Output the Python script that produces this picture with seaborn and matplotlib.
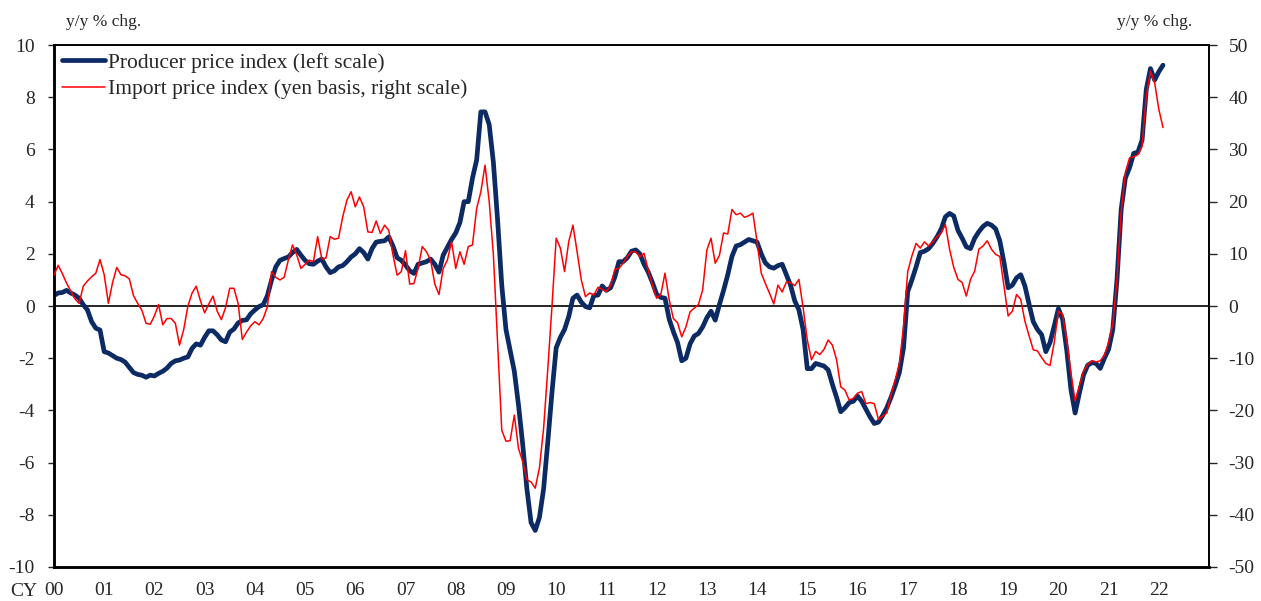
import numpy as np
import pandas as pd
import matplotlib
matplotlib.use("Agg")
import matplotlib.pyplot as plt
from matplotlib.lines import Line2D
import seaborn as sns

# =========================================
# DATA (monthly, Jan 2000 - Feb 2022, y/y % chg.)
# =========================================

# Producer price index, left scale
ppi_2000 = [0.4, 0.5, 0.52, 0.6, 0.5, 0.42, 0.3, 0.05, -0.15, -0.6, -0.85, -0.92]
ppi_2001 = [-1.75, -1.8, -1.9, -2.0, -2.05, -2.15, -2.35, -2.55, -2.62, -2.65, -2.73, -2.65]
ppi_2002 = [-2.68, -2.58, -2.5, -2.38, -2.2, -2.1, -2.07, -2.0, -1.95, -1.62, -1.45, -1.5]
ppi_2003 = [-1.2, -0.95, -0.95, -1.1, -1.3, -1.37, -1.0, -0.88, -0.65, -0.55, -0.53, -0.3]
ppi_2004 = [-0.15, -0.02, 0.05, 0.4, 1.0, 1.5, 1.75, 1.82, 1.88, 2.05, 2.17, 1.95]
ppi_2005 = [1.75, 1.62, 1.6, 1.72, 1.8, 1.5, 1.28, 1.35, 1.5, 1.55, 1.7, 1.88]
ppi_2006 = [2.0, 2.2, 2.05, 1.8, 2.2, 2.45, 2.48, 2.5, 2.65, 2.3, 1.85, 1.75]
ppi_2007 = [1.57, 1.35, 1.25, 1.6, 1.65, 1.7, 1.8, 1.6, 1.3, 1.95, 2.25, 2.55]
ppi_2008 = [2.8, 3.2, 4.0, 4.0, 4.9, 5.6, 7.44, 7.44, 6.95, 5.5, 3.3, 0.8]
ppi_2009 = [-0.9, -1.7, -2.5, -3.8, -5.3, -7.0, -8.3, -8.6, -8.1, -7.0, -5.2, -3.3]
ppi_2010 = [-1.6, -1.2, -0.9, -0.4, 0.3, 0.42, 0.15, -0.02, -0.07, 0.4, 0.42, 0.77]
ppi_2011 = [0.6, 0.7, 1.1, 1.7, 1.7, 1.85, 2.1, 2.15, 2.0, 1.6, 1.3, 0.9]
ppi_2012 = [0.45, 0.33, 0.3, -0.5, -0.98, -1.4, -2.1, -2.0, -1.45, -1.15, -1.05, -0.8]
ppi_2013 = [-0.45, -0.2, -0.54, 0.05, 0.6, 1.2, 1.9, 2.3, 2.35, 2.45, 2.55, 2.5]
ppi_2014 = [2.45, 2.0, 1.65, 1.5, 1.45, 1.55, 1.6, 1.2, 0.8, 0.2, -0.15, -0.9]
ppi_2015 = [-2.4, -2.4, -2.2, -2.25, -2.3, -2.45, -3.0, -3.5, -4.05, -3.9, -3.7, -3.65]
ppi_2016 = [-3.45, -3.65, -3.95, -4.25, -4.5, -4.45, -4.2, -3.9, -3.5, -3.05, -2.55, -1.6]
ppi_2017 = [0.55, 1.0, 1.5, 2.05, 2.1, 2.2, 2.4, 2.65, 2.95, 3.42, 3.55, 3.45]
ppi_2018 = [2.9, 2.6, 2.27, 2.2, 2.6, 2.85, 3.05, 3.17, 3.1, 2.96, 2.5, 1.67]
ppi_2019 = [0.7, 0.8, 1.08, 1.2, 0.77, 0.07, -0.6, -0.9, -1.1, -1.75, -1.4, -0.77]
ppi_2020 = [-0.1, -0.5, -1.7, -3.2, -4.1, -3.35, -2.65, -2.27, -2.17, -2.2, -2.39, -2.0]
ppi_2021 = [-1.66, -0.9, 1.0, 3.7, 4.9, 5.3, 5.85, 5.9, 6.36, 8.3, 9.1, 8.66]
ppi_2022 = [8.98, 9.23]

# Import price index (yen basis), right scale
imp_2000 = [5.9, 7.8, 6.2, 4.4, 2.9, 1.4, 0.5, 3.8, 4.8, 5.6, 6.3, 8.9]
imp_2001 = [6.0, 0.5, 4.5, 7.4, 6.0, 5.8, 5.2, 2.0, 0.5, -0.8, -3.3, -3.5]
imp_2002 = [-1.9, 0.3, -3.6, -2.4, -2.4, -3.3, -7.5, -4.5, 0.0, 2.5, 3.8, 1.0]
imp_2003 = [-1.3, 0.4, 1.9, -1.0, -2.6, -0.3, 3.4, 3.4, 0.5, -6.4, -5.0, -3.8]
imp_2004 = [-3.0, -3.6, -2.4, -0.1, 6.6, 5.5, 5.0, 5.5, 8.8, 11.7, 9.8, 7.2]
imp_2005 = [8.0, 8.8, 8.5, 13.3, 9.0, 9.2, 13.3, 12.8, 13.0, 17.1, 20.3, 21.9]
imp_2006 = [19.0, 20.9, 19.0, 14.2, 14.1, 16.3, 13.9, 15.5, 14.5, 9.8, 5.9, 6.6]
imp_2007 = [10.6, 4.2, 4.3, 7.2, 11.4, 10.4, 8.8, 4.2, 2.2, 7.2, 8.8, 12.3]
imp_2008 = [7.2, 10.4, 8.0, 11.4, 11.7, 18.7, 21.9, 27.0, 20.0, 9.8, -7.0, -23.8]
imp_2009 = [-25.9, -25.8, -20.9, -27.3, -29.8, -33.3, -33.7, -34.9, -31.0, -23.4, -12.0, 0.0]
imp_2010 = [13.0, 11.1, 6.6, 12.3, 15.5, 10.4, 5.0, 1.8, 2.5, 2.1, 3.6, 3.2]
imp_2011 = [2.8, 3.9, 7.0, 7.2, 8.2, 9.5, 10.4, 10.4, 9.4, 10.1, 6.9, 4.0]
imp_2012 = [1.5, 2.2, 6.3, 1.2, -2.4, -3.2, -5.9, -4.0, -1.1, -0.4, 0.3, 3.1]
imp_2013 = [10.7, 13.0, 8.2, 9.7, 14.0, 13.8, 18.5, 17.5, 17.8, 17.0, 17.3, 17.8]
imp_2014 = [12.3, 6.3, 4.3, 2.4, 0.4, 4.0, 2.7, 4.6, 4.5, 3.9, 5.1, -0.3]
imp_2015 = [-6.5, -10.3, -8.7, -9.3, -8.3, -6.5, -7.5, -10.3, -15.5, -16.1, -18.0, -17.7]
imp_2016 = [-16.7, -16.4, -18.7, -18.5, -18.7, -21.7, -21.1, -20.5, -17.0, -14.2, -11.0, -4.0]
imp_2017 = [6.6, 9.6, 12.0, 11.1, 12.3, 11.5, 12.3, 13.3, 14.0, 15.6, 10.9, 7.4]
imp_2018 = [5.1, 4.5, 1.9, 5.1, 6.7, 10.9, 11.5, 12.5, 10.9, 9.9, 9.5, 3.8]
imp_2019 = [-1.9, -1.0, 2.2, 1.3, -2.9, -5.7, -8.4, -8.6, -9.9, -11.0, -11.4, -7.0]
imp_2020 = [-1.0, -1.6, -6.5, -12.8, -18.2, -15.3, -12.5, -11.2, -10.5, -10.7, -10.5, -9.4]
imp_2021 = [-7.0, -3.4, 5.0, 18.0, 25.6, 28.4, 28.6, 29.0, 30.6, 40.2, 45.0, 42.8]
imp_2022 = [37.7, 34.2]

YEAR_LABELS = ["00", "01", "02", "03", "04", "05", "06", "07", "08", "09", "10",
               "11", "12", "13", "14", "15", "16", "17", "18", "19", "20", "21", "22"]

PPI_LABEL = "Producer price index (left scale)"
IMP_LABEL = "Import price index (yen basis, right scale)"

NAVY = "#0c2a63"
RED = "#ff0000"

# =========================================
# BUILD TABLE
# =========================================

ppi = (ppi_2000 + ppi_2001 + ppi_2002 + ppi_2003 + ppi_2004 + ppi_2005 + ppi_2006
       + ppi_2007 + ppi_2008 + ppi_2009 + ppi_2010 + ppi_2011 + ppi_2012 + ppi_2013
       + ppi_2014 + ppi_2015 + ppi_2016 + ppi_2017 + ppi_2018 + ppi_2019 + ppi_2020
       + ppi_2021 + ppi_2022)
imp = (imp_2000 + imp_2001 + imp_2002 + imp_2003 + imp_2004 + imp_2005 + imp_2006
       + imp_2007 + imp_2008 + imp_2009 + imp_2010 + imp_2011 + imp_2012 + imp_2013
       + imp_2014 + imp_2015 + imp_2016 + imp_2017 + imp_2018 + imp_2019 + imp_2020
       + imp_2021 + imp_2022)

df = pd.DataFrame({"month": np.arange(len(ppi)), "ppi": ppi, "imp": imp})

# =========================================
# STYLE
# =========================================

sns.set_style("white")
plt.rcParams["font.family"] = ["Liberation Serif", "DejaVu Serif"]
plt.rcParams["axes.unicode_minus"] = False
FS = 14
FS_UNIT = 12.5
FS_LEG = 15.5

# =========================================
# PLOT
# =========================================

fig, ax = plt.subplots(figsize=(12.61, 6.01), dpi=100)
fig.subplots_adjust(left=0.0428, right=0.9588, bottom=0.0566, top=0.925)
ax2 = ax.twinx()

ax.axhline(0, color="black", linewidth=1.2, zorder=1)

sns.lineplot(data=df, x="month", y="ppi", ax=ax, color=NAVY, linewidth=3.4,
             legend=False, zorder=3)
sns.lineplot(data=df, x="month", y="imp", ax=ax2, color=RED, linewidth=1.1,
             legend=False, zorder=4)

ax.set_xlim(0, 276)
ax.set_ylim(-10, 10)
ax2.set_ylim(-50, 50)

ax.set_yticks(range(-10, 11, 2))
ax2.set_yticks(range(-50, 51, 10))
ax.set_xticks(range(0, 277, 12))
ax.set_xticklabels(YEAR_LABELS + [""])

ax.set_xlabel("")
ax.set_ylabel("")
ax2.set_ylabel("")

ax.tick_params(axis="y", direction="out", length=4, width=1, labelsize=FS, pad=10)
ax2.tick_params(axis="y", direction="out", length=6, width=1, labelsize=FS, pad=8)
ax.tick_params(axis="x", direction="in", length=6, width=1, labelsize=FS, pad=11)

for a in (ax, ax2):
    for side in ["top", "right"]:
        a.spines[side].set_linewidth(1.2)
        a.spines[side].set_color("black")
    for side in ["left", "bottom"]:
        a.spines[side].set_linewidth(1.8)
        a.spines[side].set_color("black")

# Legend
handles = [Line2D([], [], color=NAVY, linewidth=3.4),
           Line2D([], [], color=RED, linewidth=1.1)]
ax2.legend(handles, [PPI_LABEL, IMP_LABEL], loc="upper left",
           bbox_to_anchor=(0.0, 1.0), frameon=False, fontsize=FS_LEG,
           handlelength=2.0, handletextpad=0.15, labelspacing=0.3,
           borderaxespad=0.15, borderpad=0.2)

# Unit labels and CY
fig.text(66 / 1261, 1 - 22 / 601, "y/y % chg.", fontsize=FS_UNIT, ha="left", va="center")
fig.text(1192 / 1261, 1 - 22 / 601, "y/y % chg.", fontsize=FS_UNIT, ha="right", va="center")
fig.text(10 / 1261, 1 - 591 / 601, "CY", fontsize=FS, ha="left", va="center")

fig.savefig("out.png", dpi=100)
plt.close(fig)
